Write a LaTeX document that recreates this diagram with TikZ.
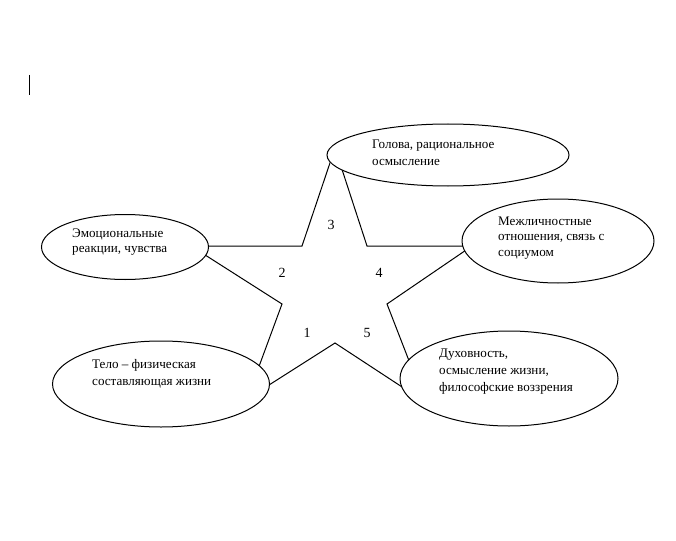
\documentclass[tikz,border=0pt]{standalone}
\usepackage{fontspec}
\setmainfont{Liberation Serif}
\usetikzlibrary{shapes.geometric}
\tikzset{
  bubble/.style={ellipse, draw, fill=white, inner sep=0pt, line width=1pt},
  txt/.style={anchor=base west, inner sep=0pt, font=\fontsize{13.1}{16}\selectfont},
  num/.style={anchor=center, inner sep=0pt, font=\fontsize{14}{16}\selectfont},
  starline/.style={line width=1pt, line join=miter}
}
\begin{document}
\begin{tikzpicture}[x=1pt,y=-1pt]
\useasboundingbox (0,0) rectangle (676,540);
% cursor
\draw[line width=1.1pt] (29.5,75) -- (29.5,95);
% star
\coordinate (tl) at (191,246);
\coordinate (i1) at (302,246);
\coordinate (tt) at (335,148);
\coordinate (i2) at (367,246);
\coordinate (tr) at (472,246);
\coordinate (i3) at (387,304);
\coordinate (tbr) at (425,402);
\coordinate (i4) at (335,343);
\coordinate (tbl) at (247,399);
\coordinate (i5) at (282,304);
\draw[starline] (tl) -- (i1) -- (tt) -- (i2) -- (tr) -- (i3) -- (tbr) -- (i4) -- (tbl) -- (i5) -- cycle;
% ellipses
\node[bubble, minimum width=242pt, minimum height=62pt] (head) at (448,155) {};
\node[bubble, minimum width=167pt, minimum height=65pt] (emo) at (125,247) {};
\node[bubble, minimum width=192pt, minimum height=84pt] (soc) at (558,241) {};
\node[bubble, minimum width=217pt, minimum height=86pt] (body) at (161,384) {};
\node[bubble, minimum width=218pt, minimum height=95pt] (spirit) at (509,378.5) {};
% texts
\node[txt] (h1) at (372,149) {Голова, рациональное};
\node[txt] (h2) at (372,165) {осмысление};
\node[txt] (e1) at (72,237) {Эмоциональные};
\node[txt] (e2) at (72,252.5) {реакции, чувства};
\node[txt] (s1) at (498,225) {Межличностные};
\node[txt] (s2) at (498,240.5) {отношения, связь с};
\node[txt] (s3) at (498,256) {социумом};
\node[txt] (b1) at (92,368) {Тело – физическая};
\node[txt] (b2) at (92,385) {составляющая жизни};
\node[txt] (d1) at (439,357) {Духовность,};
\node[txt] (d2) at (439,374) {осмысление жизни,};
\node[txt] (d3) at (439,391) {философские воззрения};
% numbers
\node[num] (n3) at (331,225) {3};
\node[num] (n2) at (282,273) {2};
\node[num] (n4) at (379,273) {4};
\node[num] (n1) at (307,333) {1};
\node[num] (n5) at (367,333) {5};
\end{tikzpicture}
\end{document}
